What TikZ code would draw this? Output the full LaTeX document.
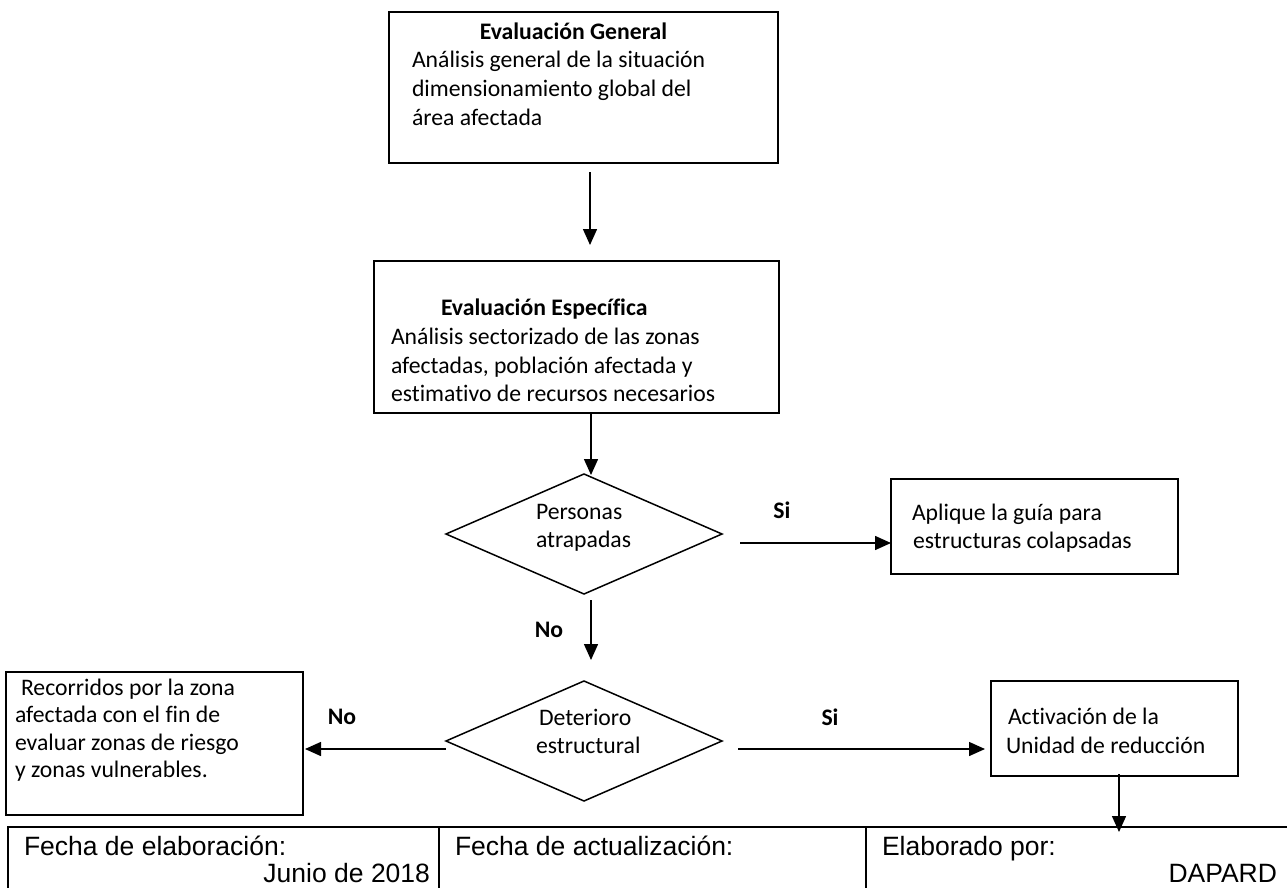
\documentclass[tikz,border=0pt]{standalone}
\usepackage{fontspec}
\setmainfont{Carlito}[Ligatures={NoCommon}]
\newfontfamily\tablefont{Liberation Sans}
\usetikzlibrary{shapes.geometric,arrows.meta}

\begin{document}
\begin{tikzpicture}[x=1pt,y=-1pt,
  every node/.style={inner sep=0pt, outer sep=0pt},
  box/.style={draw, line width=1.5pt, rectangle},
  decision/.style={draw, line width=1.5pt, diamond, minimum width=276pt, minimum height=120pt},
  txt/.style={anchor=base west, font=\fontsize{23.7}{28}\selectfont},
  hdr/.style={anchor=base west, font=\fontsize{23.7}{28}\selectfont\bfseries},
  lbl/.style={anchor=base, font=\fontsize{23.7}{28}\selectfont\bfseries},
  arr/.style={line width=1.5pt, -{Triangle[length=16pt,width=14pt]}},
  cell/.style={draw, line width=2pt, rectangle, anchor=north west, minimum height=100pt},
  ttxt/.style={font=\tablefont\fontsize{26.5}{30}\selectfont}
]
\useasboundingbox (0,0) rectangle (1287,888);

% guide coordinates for the connectors
\coordinate (c1) at (590,0);
\coordinate (c2) at (591,0);
\coordinate (c3) at (1119,0);
\coordinate (r1) at (0,543);
\coordinate (r2) at (0,749);

% boxes and decisions
\node[box, minimum width=389pt, minimum height=151pt] (b1) at (583.5,87.5) {};
\node[box, minimum width=405pt, minimum height=152pt] (b2) at (576.5,337) {};
\node[decision] (d1) at (584,534) {};
\node[box, minimum width=287pt, minimum height=95pt] (ap) at (1034.5,526.5) {};
\node[decision] (d2) at (584,741) {};
\node[box, minimum width=297pt, minimum height=143pt] (lb) at (154.5,743.5) {};
\node[box, minimum width=247pt, minimum height=95pt] (act) at (1114.5,728.5) {};

% texts of the first box
\node[lbl] (b1t) at (573.5,40) {Evaluación General};
\node[txt] (b1a) at (412,68) {Análisis general de la situación};
\node[txt] (b1b) at (412,97) {dimensionamiento global del};
\node[txt] (b1c) at (412,125) {área afectada};

% texts of the second box
\node[hdr] (b2t) at (441,315) {Evaluación Específica};
\node[txt] (b2a) at (391,344) {Análisis sectorizado de las zonas};
\node[txt] (b2b) at (391,373) {afectadas, población afectada y};
\node[txt] (b2c) at (391,401) {estimativo de recursos necesarios};

% decision texts
\node[txt] (d1a) at (536,519) {Personas};
\node[txt] (d1b) at (536,547) {atrapadas};
\node[txt] (d2a) at (539,725) {Deterioro};
\node[txt] (d2b) at (536,753) {estructural};

% outcome boxes
\node[txt] (apa) at (912,520) {Aplique la guía para};
\node[txt] (apb) at (913,548) {estructuras colapsadas};
\node[txt] (lba) at (21,695) {Recorridos por la zona};
\node[txt] (lbb) at (15,722) {afectada con el fin de};
\node[txt] (lbc) at (15,750) {evaluar zonas de riesgo};
\node[txt] (lbd) at (15,777) {y zonas vulnerables.};
\node[txt] (acta) at (1008,724) {Activación de la};
\node[txt] (actb) at (1006,753) {Unidad de reducción};

% branch labels
\node[lbl] (si1) at (782,518) {Si};
\node[lbl] (no1) at (549,637) {No};
\node[lbl] (no2) at (342,724) {No};
\node[lbl] (si2) at (830,725) {Si};

% footer table
\node[cell, minimum width=431pt] (t1) at (8,827) {};
\node[cell, minimum width=427pt] (t2) at (439,827) {};
\node[cell, minimum width=450pt] (t3) at (866,827) {};
\node[ttxt, anchor=base west] (t1a) at (24,855) {Fecha de elaboración:};
\node[ttxt, anchor=base east] (t1b) at (430,882) {Junio de 2018};
\node[ttxt, anchor=base west] (t2a) at (455,855) {Fecha de actualización:};
\node[ttxt, anchor=base west] (t3a) at (882,855) {Elaborado por:};
\node[ttxt, anchor=base east] (t3b) at (1277,882) {DAPARD};

% connectors
\draw[arr] ([yshift=-9pt]b1.south -| c1) -- ([yshift=16pt]b2.north -| c1);
\draw[arr] (b2.south -| c2) -- ([yshift=-1pt]d1.north -| c2);
\draw[arr] ([xshift=18pt]d1.east |- r1) -- (ap.west |- r1);
\draw[arr] ([yshift=-6pt]d1.south -| c2) -- ([yshift=21pt]d2.north -| c2);
\draw[arr] (d2.west |- r2) -- ([xshift=2pt]lb.east |- r2);
\draw[arr] ([xshift=16pt]d2.east |- r2) -- ([xshift=-6pt]act.west |- r2);
\draw[arr] ([yshift=2pt]act.south -| c3) -- ([yshift=-5pt]t3.north -| c3);
\end{tikzpicture}
\end{document}
